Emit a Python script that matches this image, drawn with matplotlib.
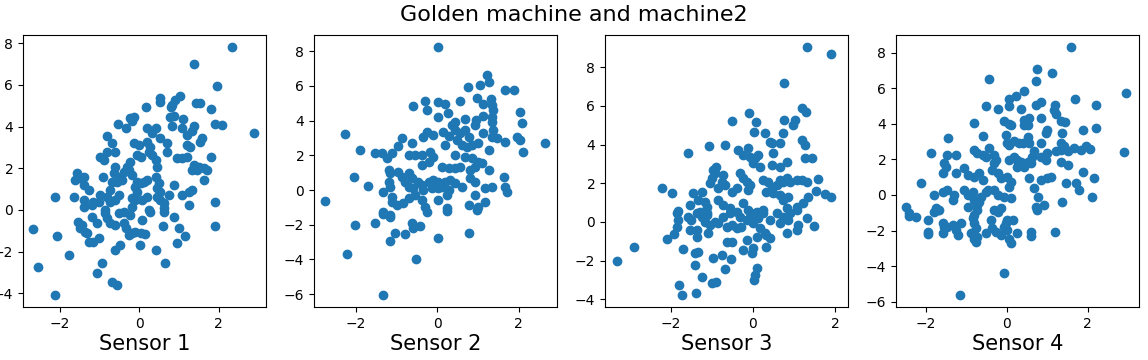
import numpy as np
import matplotlib
matplotlib.use('Agg')
import matplotlib.pyplot as plt

# Points, one list of (x, y) pairs per sensor
sensor1 = [
    (2.35, 7.82), (1.39, 7.02), (1.97, 5.93), (1.02, 5.48), (0.53, 5.37), (0.53, 5.2), (0.91, 5.29),
    (0.83, 5.05), (0.80, 4.93), (0.18, 4.92), (1.42, 5.13), (1.54, 5.13), (1.80, 4.86), (-0.14, 4.46),
    (-0.23, 4.41), (0.78, 4.46), (0.87, 4.52), (1.11, 4.36), (-0.55, 4.12), (1.92, 4.12), (2.09, 4.09),
    (2.89, 3.69), (-0.35, 3.93), (-0.19, 4.25), (0.19, 3.93), (0.41, 3.93), (0.32, 3.69), (0.53, 3.45),
    (0.83, 4.01), (1.08, 3.93), (1.37, 4.01), (1.33, 3.77), (1.21, 3.6), (1.59, 3.45), (1.54, 3.28),
    (-0.82, 3.56), (-0.69, 3.2), (-0.14, 3.2), (-0.02, 3.13), (0.19, 3.28), (0.26, 3.04), (0.24, 2.8),
    (0.70, 3.2), (1.29, 3.04), (1.21, 3.12), (-0.61, 2.8), (-0.82, 2.8), (-0.99, 2.56), (-0.9, 2.4),
    (-0.06, 2.64), (0.03, 2.56), (0.32, 2.64), (0.41, 2.4), (0.45, 2.08), (0.70, 2.76), (0.95, 2.48),
    (1.08, 2.48), (1.21, 2.56), (1.37, 2.16), (1.50, 2.08), (1.63, 2.0), (1.71, 1.92), (1.80, 2.56),
    (1.33, 1.92), (1.46, 1.92), (1.63, 1.44), (-0.23, 2.32), (-0.31, 2.08), (-0.40, 1.84), (-0.48, 1.6),
    (-0.61, 2.08), (-0.65, 1.76), (-0.69, 1.36), (-0.56, 1.36), (-0.44, 1.44), (-0.27, 1.92), (-0.19, 1.68),
    (-1.58, 1.76), (-1.49, 1.52), (-1.62, 1.44), (-1.41, 1.6), (-1.41, 1.2), (-1.28, 0.96), (-0.93, 1.6),
    (-0.73, 0.96), (-0.06, 1.36), (0.03, 1.28), (0.11, 1.36), (0.19, 1.44), (-0.1, 1.12), (-0.06, 0.88),
    (0.41, 1.6), (0.49, 1.28), (0.45, 1.04), (0.53, 0.88), (0.87, 1.2), (1.92, 0.40), (1.25, 0.88),
    (1.33, 0.96), (1.08, 0.72), (0.74, 0.72), (-2.13, 0.61), (-1.66, 0.61), (-1.41, 0.48), (-1.16, 0.40),
    (-0.99, 0.72), (-1.03, 0.40), (-1.41, 0.16), (-1.2, 0.24), (-0.82, 0.64), (-0.73, 0.40), (-0.52, 0.72),
    (-0.61, 0.48), (-0.19, 0.56), (-0.1, 0.48), (0.07, 0.48), (0.19, 0.64), (0.45, 0.64), (0.53, 0.48),
    (0.62, 0.32), (0.62, 0.08), (-0.19, 0.16), (-0.86, 0.0), (1.25, 0.24), (0.24, 0.0),
    (-2.68, -0.91), (-2.55, -2.72), (-2.08, -1.25), (-1.79, -2.16), (-2.13, -4.09), (-1.54, -0.56),
    (-1.45, -0.72), (-1.49, -0.88), (-1.37, -1.04), (-1.32, -1.12), (-1.2, -0.32), (-1.07, -0.64),
    (-1.28, -1.52), (-1.16, -1.52), (-1.03, -1.36), (-0.94, -2.53), (-1.06, -3.01), (-0.69, -3.45),
    (-0.56, -3.61), (-0.61, -1.92), (-0.48, -1.68), (-0.86, -0.16), (-0.82, -0.40), (-0.73, -0.64),
    (-0.61, -0.72), (-0.52, -0.16), (-0.40, -0.08), (-0.23, -0.24), (-0.40, -0.64), (-0.35, -0.88),
    (-0.27, -1.2), (-0.19, -1.12), (-0.1, -1.04), (0.03, -1.12), (0.15, -1.15), (0.01, -1.68),
    (0.07, -0.48), (0.26, -0.08), (0.41, -1.92), (0.62, -0.08), (0.87, -0.35), (0.59, -0.77),
    (1.0, -0.88), (1.16, -1.25), (0.95, -1.6), (0.66, -2.56), (1.91, -0.77),
]

sensor2 = [
    (0.03, 8.22), (1.22, 6.62), (1.26, 6.24), (1.05, 6.05), (0.75, 5.91), (1.67, 5.76), (1.89, 5.76),
    (-0.58, 4.84), (-0.29, 5.13), (-0.25, 4.61), (0.03, 5.09), (0.2, 4.95), (0.56, 5.13), (0.99, 5.32),
    (1.32, 5.22), (1.34, 4.9), (1.38, 4.61), (1.13, 4.95), (2.03, 4.51), (0.03, 4.22), (0.26, 4.42),
    (0.44, 3.93), (0.69, 4.07), (0.96, 4.03), (1.13, 4.26), (1.34, 4.22), (1.34, 3.93), (2.08, 3.88),
    (-2.25, 3.23), (-1.89, 2.3), (-1.52, 2.15), (-1.36, 2.15), (-1.11, 2.15), (-0.87, 2.98), (-0.95, 2.53),
    (-0.62, 2.73), (-1.23, 1.83), (-1.19, 1.15), (-1.15, 0.96), (-0.70, 2.02), (-0.54, 2.02), (-0.38, 2.02),
    (-0.25, 3.36), (-0.34, 3.07), (-0.09, 3.17), (0.15, 3.36), (0.28, 3.11), (-0.17, 2.21), (-0.09, 1.92),
    (-0.21, 1.63), (-0.38, 1.44), (0.2, 2.59), (0.36, 3.74), (0.44, 3.46), (0.56, 3.27), (0.69, 3.46),
    (0.77, 3.07), (0.48, 2.88), (0.61, 2.59), (0.73, 2.49), (0.85, 2.59), (0.93, 3.74), (1.13, 3.27),
    (1.38, 3.46), (1.34, 3.07), (1.46, 2.98), (1.67, 2.78), (1.01, 2.69), (1.26, 2.3), (1.95, 3.07),
    (2.03, 2.88), (2.1, 2.21), (0.44, 2.02), (0.69, 1.92), (0.85, 1.83), (1.01, 1.63), (1.1, 1.54),
    (0.93, 1.34), (0.81, 1.15), (1.26, 1.15), (0.11, 1.34), (0.28, 1.25), (0.44, 1.25), (0.56, 1.34),
    (-0.95, 1.06), (-0.87, 0.77), (-0.70, 0.96), (-0.62, 0.67), (-2.05, 0.77), (-1.70, 0.23), (-2.75, -0.63),
    (-1.19, 0.48), (-1.15, 0.19), (-1.32, -0.1), (-1.11, -0.38), (-0.78, 0.48), (-0.70, 0.19), (-0.58, 0.10),
    (-0.46, 0.48), (-0.38, 0.29), (-0.34, 0.0), (-0.21, 0.48), (-0.09, 0.58), (0.03, 0.48), (0.2, 0.48),
    (0.32, 0.58), (0.44, 0.38), (-0.13, 0.1), (0.03, 0.1), (0.11, 0.19), (0.28, 0.0), (0.24, -0.29),
    (0.61, 0.19), (0.81, 0.67), (0.93, 0.48), (1.18, 0.1), (1.34, 0.19), (1.63, 0.77), (1.67, 0.19),
    (1.71, -0.1), (0.93, -0.29), (1.18, -0.67), (0.77, -0.86), (1.01, -1.0), (-1.11, -0.67), (-0.99, -0.86),
    (-0.83, -0.77), (-0.70, -0.48), (-0.54, -0.29), (-0.38, -0.58), (-0.29, -0.96), (-0.25, -1.25),
    (0.03, -0.58), (0.24, -1.06), (-1.32, -1.25), (-1.15, -1.44),
    (-2.01, -2.02), (-1.52, -1.88), (-2.21, -3.69), (-1.32, -1.38), (-1.15, -1.54), (-1.15, -2.92),
    (-1.03, -2.46), (-0.78, -2.53), (-0.62, -1.92), (-0.58, -2.21), (-0.42, -2.07), (0.24, -1.21),
    (-0.51, -3.97), (0.03, -2.75), (0.77, -2.46), (-1.32, -6.05), (0.97, -1.15), (2.65, 2.71),
]

sensor3 = [
    (1.31, 9.04), (1.9, 8.69), (0.76, 7.21), (-0.10, 5.62), (-0.50, 5.24), (0.07, 5.19), (0.76, 5.28),
    (1.02, 5.28), (1.19, 5.88), (1.29, 5.71), (0.02, 4.67), (0.98, 5.02), (0.29, 4.59), (0.41, 4.15),
    (0.46, 4.07), (0.74, 4.59), (0.66, 4.07), (1.19, 4.24), (1.27, 3.98), (-1.59, 3.55), (-1.07, 3.93),
    (-0.68, 3.98), (-0.36, 3.72), (-0.11, 3.81), (-0.24, 3.47), (-0.07, 3.38), (0.05, 3.29), (0.13, 3.47),
    (0.5, 3.55), (0.01, 3.04), (0.17, 2.86), (0.46, 2.95), (0.66, 2.86), (0.82, 3.12), (1.27, 3.29),
    (-0.97, 2.69), (-0.89, 2.86), (-0.93, 2.52), (-1.01, 2.26), (-1.05, 2.0), (-0.72, 2.43), (-0.76, 2.09),
    (-0.68, 1.91), (-0.85, 1.74), (-0.32, 2.52), (-0.24, 2.26), (-0.15, 2.08), (-0.07, 1.91), (-0.11, 1.66),
    (-0.40, 1.74), (-0.52, 1.57), (0.25, 2.17), (0.37, 2.09), (0.46, 1.83), (0.58, 1.91), (0.66, 2.17),
    (0.74, 2.09), (0.82, 2.26), (0.90, 2.09), (1.07, 2.17), (1.19, 2.17), (1.31, 2.09), (0.33, 1.57),
    (0.5, 1.48), (0.66, 1.40), (0.86, 1.31), (1.07, 0.79), (-2.23, 1.74), (-1.98, 1.48), (-1.46, 1.48),
    (-1.25, 1.57), (-1.33, 1.14), (-1.17, 1.05), (-1.13, 0.79), (-1.84, 0.58), (-1.54, 0.88), (-0.85, 1.14),
    (-0.72, 0.88), (-0.56, 0.71), (-0.40, 0.53), (-0.24, 0.97), (-0.11, 0.62), (0.09, 0.53), (0.25, 0.62),
    (0.74, 1.14), (0.82, 0.71), (1.07, 0.62), (1.23, 0.97), (1.35, 1.31), (-1.29, 0.53), (-1.13, 0.45),
    (-3.32, -2.02), (-2.9, -1.31), (-2.09, -0.89), (-1.93, -0.62), (-1.86, -0.24), (-1.82, 0.1), (-1.86, 0.45),
    (-1.71, -1.40), (-1.58, 0.27), (-1.50, 0.10), (-1.54, -0.41), (-1.37, -0.41), (-1.37, -0.76),
    (-1.41, -1.62), (-1.33, -1.54), (-1.41, -2.22), (-1.25, -2.83), (-1.80, -3.26), (-1.74, -3.78),
    (-1.39, -3.66), (-1.37, 0.45), (-1.25, 0.27), (-1.13, 0.36), (-1.05, -0.16), (-0.93, 0.02),
    (-1.17, 0.02), (-1.09, -0.58), (-0.98, -1.85), (-0.76, -1.71), (-0.54, -1.93), (-0.68, -2.45),
    (-1.01, -3.17), (-0.89, -3.09), (-0.85, -0.07), (-0.72, 0.27), (-0.64, -0.24), (-0.52, -0.16),
    (-0.40, -0.33), (-0.56, 0.45), (-0.64, -1.02), (-0.52, -1.02), (-0.24, -1.45), (-0.15, -0.93),
    (-0.03, -1.62), (0.01, -1.36), (-0.32, 0.27), (-0.28, -0.24), (-0.15, 0.10), (-0.07, 0.27),
    (0.01, -0.07), (0.05, 0.45), (0.13, 0.19), (0.25, 0.45), (0.17, -0.33), (0.29, -0.58), (0.09, -2.40),
    (0.05, -2.74), (0.02, -3.0), (0.09, -0.76), (0.33, -0.67), (0.41, -0.84), (0.33, -1.28), (0.41, 0.10),
    (0.58, 0.45), (0.66, -0.07), (0.74, 0.27), (0.86, 0.10), (0.90, 0.45), (0.82, -0.58), (1.07, -0.41),
    (1.10, -0.16), (1.31, 0.19), (1.55, 1.6), (1.75, 1.45), (1.9, 1.3), (1.6, 2.2), (1.5, -0.2), (1.45, 3.3),
]

sensor4 = [
    (1.59, 8.34), (1.69, 5.42), (-0.44, 6.50), (0.75, 7.06), (1.12, 6.84), (0.72, 6.40), (0.42, 5.84),
    (0.23, 5.55), (0.07, 5.42), (0.07, 5.03), (-0.51, 5.03), (-0.22, 4.86), (0.35, 4.86), (0.72, 5.08),
    (0.85, 5.21), (1.19, 5.08), (1.18, 4.76), (1.22, 4.58), (0.85, 4.33), (0.44, 4.24), (0.56, 4.33),
    (-0.06, 4.14), (0.07, 4.01), (-0.81, 4.05), (1.34, 4.14), (1.44, 4.08),
    (0.12, 3.95), (0.44, 3.95), (0.52, 3.95), (1.88, 3.67), (1.01, 3.67), (0.97, 3.49), (1.38, 3.49),
    (-1.44, 3.20), (-0.59, 3.33), (-0.02, 3.39), (0.02, 2.92), (0.19, 3.01), (0.31, 2.92), (0.40, 2.92),
    (0.52, 3.29), (0.56, 2.92), (0.85, 2.95), (1.34, 2.92), (1.42, 2.73), (-1.87, 2.39), (-1.46, 2.26),
    (-1.25, 2.26), (-0.80, 2.54), (-0.72, 2.35), (-0.59, 2.26), (-0.43, 2.64), (-0.51, 2.16), (-0.30, 2.26),
    (-0.26, 1.98), (-0.30, 1.79), (0.07, 2.82), (0.07, 1.98), (0.19, 2.16), (0.27, 1.98), (0.35, 1.88),
    (0.27, 1.60), (0.44, 1.60), (0.52, 1.88), (0.60, 1.79), (0.64, 2.16), (0.68, 2.45), (0.85, 2.16),
    (1.01, 2.35), (0.97, 1.98), (1.22, 2.45), (1.34, 2.54), (1.51, 2.45), (1.67, 2.64), (1.83, 2.54),
    (1.96, 2.73), (1.34, 1.88), (1.51, 1.70), (1.88, 1.32), (-1.54, 1.79), (-1.50, 1.60), (-1.58, 1.23),
    (-1.25, 1.23), (-2.12, 0.70), (-1.04, 1.51), (-0.96, 1.13), (-0.80, 1.04), (-0.67, 1.23), (-0.59, 0.85),
    (-0.35, 1.41), (-0.22, 1.23), (-0.14, 0.94), (0.02, 1.04), (0.11, 0.75), (0.07, 0.47), (0.56, 0.94),
    (0.68, 0.38), (0.85, 0.85), (1.01, 0.94), (1.09, 1.04), (1.46, 0.66), (1.71, 0.66), (1.80, 0.28),
    (0.77, -0.10), (0.72, -0.66), (0.93, -0.56), (1.38, -0.38), (-1.79, 0.0), (-1.58, 0.19), (-1.46, 0.28),
    (-1.29, 0.0), (-1.33, -0.28), (-1.75, -0.75), (-1.70, -0.85), (-2.49, -0.70), (-2.40, -1.04),
    (-1.04, 0.28), (-0.96, 0.0), (-0.84, 0.19), (-0.80, -0.28), (-0.63, -0.09), (-0.51, 0.19), (-0.47, 0.28),
    (-0.30, 0.28), (-0.22, 0.0), (-0.06, -0.09), (0.11, -0.19), (-0.96, -0.66), (-0.72, -0.56),
    (-0.67, -0.38), (-0.14, -0.75), (-0.22, -0.94), (-0.80, -1.13),
    (-2.40, -1.19), (-2.24, -1.22), (-1.95, -1.41), (-1.95, -2.07), (-1.95, -2.20), (-1.79, -0.94),
    (-1.66, -0.85), (-1.58, -1.60), (-1.54, -1.79), (-1.58, -2.13), (-1.46, -1.79), (-1.33, -1.69),
    (-1.25, -1.98), (-1.21, -2.26), (-1.13, -1.60), (-0.84, -1.32), (-0.80, -1.60), (-0.76, -1.88),
    (-0.88, -2.16), (-0.80, -2.45), (-0.76, -2.64), (-0.72, -2.35), (-0.72, -0.85), (-0.51, -2.16),
    (-0.39, -1.41), (-0.35, -1.88), (-0.26, -2.07), (-0.14, -2.26), (-0.06, -1.79), (-0.02, -1.60),
    (0.02, -1.98), (0.07, -2.45), (0.11, -2.69), (0.02, -1.41), (0.17, -1.41), (0.27, -2.13),
    (-0.30, -0.85), (0.60, -2.07), (0.60, -2.32), (0.75, -0.85), (1.19, -2.07), (-0.07, -4.39),
    (-1.15, -5.65), (2.22, 5.08), (2.22, 3.79), (2.17, 0.96), (2.89, 2.43), (2.96, 5.71), (2.05, 2.6),
    (2.1, -0.1),
]

sensors = [sensor1, sensor2, sensor3, sensor4]
labels = ['Sensor 1', 'Sensor 2', 'Sensor 3', 'Sensor 4']
title = 'Golden machine and machine2'

# axis limits as seen in the picture
xlims = [(-2.94, 3.2), (-3.02, 2.94), (-3.61, 2.32), (-2.73, 3.27)]
ylims = [(-4.66, 8.4), (-6.74, 8.93), (-4.4, 9.67), (-6.3, 9.0)]

W, H = 1148, 360
fig = plt.figure(figsize=(W / 100, H / 100), dpi=100)

lefts = [23, 314, 605, 896]
for i, pts in enumerate(sensors):
    ax = fig.add_axes([lefts[i] / W, 1 - 307 / H, 243 / W, 272 / H])
    pts = np.array(pts)
    ax.scatter(pts[:, 0], pts[:, 1], s=36, color='#1f77b4')
    ax.set_xlim(*xlims[i])
    ax.set_ylim(*ylims[i])
    ax.set_xlabel(labels[i], fontsize=15, labelpad=2)

fig.suptitle(title, fontsize=16, y=0.985)

fig.savefig('out.png', dpi=100)
